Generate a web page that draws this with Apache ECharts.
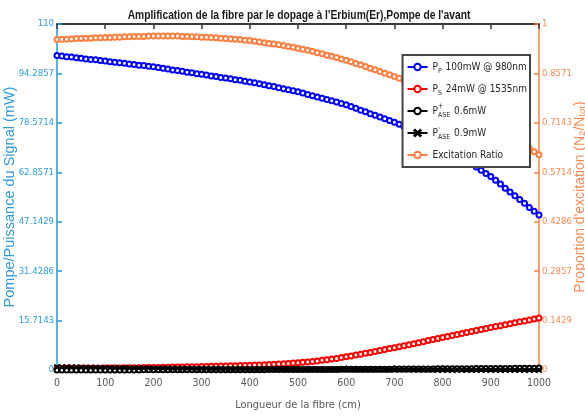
<!DOCTYPE html>
<html><head><meta charset="utf-8">
<script src="https://cdn.jsdelivr.net/npm/echarts@6/dist/echarts.min.js"></script>
<style>html,body{margin:0;padding:0;background:#fff}#c{width:585px;height:419px}</style>
</head><body><div id="c"></div>
<script>
var lengthCm = [0,10,20,30,40,50,60,70,80,90,100,110,120,130,140,150,160,170,180,190,200,210,220,230,240,250,260,270,280,290,300,310,320,330,340,350,360,370,380,390,400,410,420,430,440,450,460,470,480,490,500,510,520,530,540,550,560,570,580,590,600,610,620,630,640,650,660,670,680,690,700,710,720,730,740,750,760,770,780,790,800,810,820,830,840,850,860,870,880,890,900,910,920,930,940,950,960,970,980,990,1000];
var pumpP = [100.0,99.8,99.6,99.5,99.3,99.1,98.9,98.7,98.6,98.4,98.2,
  98.0,97.8,97.7,97.5,97.3,97.1,96.9,96.8,96.6,96.4,
  96.2,95.9,95.7,95.4,95.2,95.0,94.7,94.5,94.2,94.0,
  93.8,93.5,93.3,93.0,92.8,92.6,92.3,92.1,91.8,91.6,
  91.3,91.0,90.7,90.4,90.1,89.7,89.4,89.1,88.8,88.5,
  88.1,87.6,87.2,86.8,86.4,86.0,85.6,85.2,84.7,84.3,
  83.8,83.2,82.6,82.1,81.5,81.0,80.4,79.9,79.3,78.8,
  78.1,77.3,76.6,75.9,75.1,74.4,73.7,73.0,72.2,71.5,
  70.6,69.6,68.6,67.6,66.6,65.6,64.5,63.5,62.5,61.5,
  60.3,59.1,57.8,56.6,55.4,54.2,53.0,51.7,50.5,49.3];
var signalS = [0.50,0.51,0.52,0.53,0.54,0.55,0.56,0.57,0.58,0.59,0.60,
  0.62,0.64,0.66,0.68,0.70,0.72,0.74,0.76,0.78,0.80,
  0.83,0.86,0.89,0.92,0.95,0.98,1.01,1.04,1.07,1.10,
  1.14,1.18,1.22,1.26,1.30,1.34,1.38,1.42,1.46,1.50,
  1.56,1.62,1.69,1.76,1.84,1.92,2.01,2.10,2.20,2.30,
  2.43,2.57,2.72,2.89,3.07,3.26,3.47,3.69,3.94,4.20,
  4.47,4.75,5.03,5.31,5.60,5.90,6.19,6.49,6.80,7.10,
  7.42,7.74,8.06,8.38,8.70,9.02,9.34,9.66,9.98,10.30,
  10.62,10.94,11.26,11.58,11.90,12.22,12.54,12.86,13.18,13.50,
  13.80,14.10,14.40,14.70,15.00,15.30,15.60,15.90,16.20,16.50];
var aseForward = [0.00,0.00,0.01,0.01,0.01,0.01,0.01,0.02,0.02,0.02,0.02,
  0.02,0.02,0.03,0.03,0.03,0.03,0.03,0.04,0.04,0.04,
  0.04,0.04,0.05,0.05,0.05,0.05,0.06,0.06,0.06,0.06,
  0.07,0.07,0.07,0.08,0.08,0.08,0.09,0.09,0.09,0.10,
  0.10,0.11,0.11,0.12,0.12,0.13,0.13,0.14,0.14,0.15,
  0.15,0.16,0.16,0.17,0.18,0.18,0.19,0.19,0.20,0.21,
  0.21,0.22,0.23,0.23,0.24,0.25,0.26,0.26,0.27,0.28,
  0.29,0.30,0.30,0.31,0.32,0.33,0.34,0.35,0.36,0.37,
  0.38,0.39,0.40,0.41,0.42,0.43,0.44,0.45,0.46,0.47,
  0.48,0.49,0.50,0.51,0.53,0.54,0.55,0.56,0.58,0.60];
var aseBackward = [0.90,0.88,0.86,0.84,0.82,0.80,0.78,0.76,0.74,0.72,0.70,
  0.68,0.66,0.64,0.63,0.61,0.59,0.58,0.56,0.55,0.53,
  0.52,0.50,0.49,0.48,0.46,0.45,0.44,0.43,0.41,0.40,
  0.39,0.38,0.37,0.36,0.35,0.34,0.33,0.32,0.31,0.30,
  0.29,0.28,0.27,0.27,0.26,0.25,0.24,0.23,0.23,0.22,
  0.21,0.21,0.20,0.19,0.19,0.18,0.17,0.17,0.16,0.16,
  0.15,0.15,0.14,0.14,0.13,0.13,0.12,0.12,0.11,0.11,
  0.10,0.10,0.10,0.09,0.09,0.08,0.08,0.08,0.07,0.07,
  0.07,0.06,0.06,0.06,0.05,0.05,0.05,0.04,0.04,0.04,
  0.04,0.03,0.03,0.03,0.02,0.02,0.02,0.02,0.01,0.01];
var excitation = [0.955,0.956,0.956,0.957,0.958,0.958,0.959,0.959,0.960,0.960,0.961,
  0.961,0.962,0.962,0.963,0.963,0.964,0.964,0.964,0.965,0.965,
  0.965,0.965,0.965,0.965,0.965,0.964,0.964,0.963,0.963,0.962,
  0.962,0.961,0.960,0.959,0.958,0.957,0.956,0.955,0.953,0.952,
  0.950,0.948,0.946,0.944,0.942,0.940,0.938,0.935,0.933,0.930,
  0.927,0.924,0.921,0.917,0.914,0.910,0.907,0.903,0.899,0.895,
  0.891,0.886,0.882,0.877,0.872,0.868,0.863,0.858,0.853,0.848,
  0.843,0.837,0.831,0.825,0.819,0.813,0.807,0.801,0.795,0.788,
  0.781,0.774,0.766,0.759,0.751,0.743,0.736,0.728,0.720,0.712,
  0.704,0.695,0.686,0.677,0.668,0.659,0.650,0.641,0.631,0.622];
var xTicks = [0,100,200,300,400,500,600,700,800,900,1000];
var leftTicks = [0,15.7143,31.4286,47.1429,62.8571,78.5714,94.2857,110];
var rightTicks = [0,0.1429,0.2857,0.4286,0.5714,0.7143,0.8571,1];
var titleText = "Amplification de la fibre par le dopage à l'Erbium(Er),Pompe de l'avant";
var seriesNames = ['Pp','Ps','PaseF','PaseB','Excitation Ratio'];
var legendLabels = {
  'Pp': 'P{sub|P} 100mW @ 980nm',
  'Ps': 'P{sub|S} 24mW @ 1535nm',
  'PaseF': 'P{sup|+}{sub|ASE} 0.6mW',
  'PaseB': 'P{sup|-}{sub|ASE} 0.9mW',
  'Excitation Ratio': 'Excitation Ratio'
};

function pairs(ys){ return lengthCm.map(function(x,i){ return [x, ys[i]]; }); }
var FN = '"DejaVu Sans Condensed",sans-serif';
var FR = '"Liberation Sans",Arial,sans-serif';
var BLUEAX = '#1E9BE0', ORANGE = '#FF7F40', ORLBL = '#F98A55', BLLBL = '#2E9BDB';
var xPath = 'path://M1,0 L5,4 L9,0 L10,1 L6,5 L10,9 L9,10 L5,6 L1,10 L0,9 L4,5 L0,1 Z';
function fmt(v){ return String(parseFloat(Number(v).toFixed(4))); }

var chart = echarts.init(document.getElementById('c'), null, {renderer:'canvas'});
function lineSeries(name, ys, color, yIdx, symbol){
  return {
    name: name, type: 'line', data: pairs(ys), yAxisIndex: yIdx, xAxisIndex: 0,
    symbol: symbol || 'emptyCircle', symbolSize: 5, showAllSymbol: true,
    lineStyle: {color: color, width: 1.5}, itemStyle: {color: color, borderColor: color, borderWidth: 1.2},
    animation: false, z: 3
  };
}
chart.setOption({
  animation: false,
  graphic: [{
    type: 'text', x: 299, y: 15, scaleX: 0.79, z: 10,
    style: {text: titleText, font: 'bold 13px ' + FR, fill: '#1a1a1a', align: 'center', verticalAlign: 'middle'}
  }],
  grid: {left: 57, right: 46, top: 24, bottom: 49, containLabel: false, outerBoundsMode: 'none'},
  legend: {
    data: seriesNames, orient: 'vertical', right: 55, top: 55,
    itemWidth: 20, itemHeight: 8, itemGap: 6,
    backgroundColor: '#fff', borderColor: '#444', borderWidth: 2, padding: [4, 3, 4, 4],
    formatter: function(n){ return legendLabels[n]; },
    textStyle: {fontFamily: FN, fontSize: 10, color: '#262626', lineHeight: 16,
      rich: {
        sub: {fontFamily: FN, fontSize: 7, color: '#262626', verticalAlign: 'bottom', lineHeight: 9, padding:[0,1,0,0]},
        sup: {fontFamily: FN, fontSize: 7, color: '#262626', verticalAlign: 'top', lineHeight: 9, width: 0.01}
      }}
  },
  xAxis: [{
    type: 'value', position: 'bottom', min: 0, max: 1000, interval: 100,
    axisLine: {show: true, onZero: false, lineStyle: {color: '#262626', width: 1}},
    axisTick: {inside: true, length: 5, lineStyle: {color: '#262626'}, customValues: xTicks},
    axisLabel: {color: '#595959', fontFamily: FN, fontSize: 10.5, margin: 8, customValues: xTicks, formatter: fmt},
    splitLine: {show: false},
    name: 'Longueur de la fibre (cm)', nameLocation: 'middle', nameGap: 30, nameMoveOverlap: false,
    nameTextStyle: {color: '#595959', fontFamily: FN, fontSize: 11}
  }, {
    type: 'value', position: 'top', min: 0, max: 1000, interval: 100,
    axisLine: {show: true, onZero: false, lineStyle: {color: '#3a3a3a', width: 2}},
    axisTick: {inside: true, length: 5, lineStyle: {color: '#3a3a3a', width: 1.5}},
    axisLabel: {show: false}, splitLine: {show: false}
  }],
  yAxis: [{
    type: 'value', position: 'left', min: 0, max: 110,
    axisLine: {show: true, onZero: false, lineStyle: {color: BLUEAX, width: 1.5}},
    axisTick: {inside: true, length: 5, lineStyle: {color: BLUEAX, width: 1.5}, customValues: leftTicks},
    axisLabel: {color: BLLBL, fontFamily: FN, fontSize: 9.5, margin: 3, customValues: leftTicks, formatter: fmt},
    splitLine: {show: false},
    name: 'Pompe/Puissance du Signal (mW)', nameLocation: 'middle', nameGap: 40, nameMoveOverlap: false,
    nameTextStyle: {color: BLLBL, fontFamily: FR, fontSize: 14.5}
  }, {
    type: 'value', position: 'right', min: 0, max: 1,
    axisLine: {show: true, onZero: false, lineStyle: {color: ORANGE, width: 1.5}},
    axisTick: {inside: true, length: 5, lineStyle: {color: ORANGE, width: 1.5}, customValues: rightTicks},
    axisLabel: {color: ORLBL, fontFamily: FN, fontSize: 9.5, margin: 3, customValues: rightTicks, formatter: fmt},
    splitLine: {show: false},
    name: "Proportion d'excitation (N{sub|2}/N{sub|tot})", nameLocation: 'middle', nameGap: 34, nameMoveOverlap: false,
    nameTextStyle: {color: ORLBL, fontFamily: FR, fontSize: 14,
      rich: {sub: {color: ORLBL, fontFamily: FR, fontSize: 9.5, verticalAlign: 'bottom', lineHeight: 11}}}
  }],
  series: [
    lineSeries('Pp', pumpP, '#0000FF', 0),
    lineSeries('Ps', signalS, '#FF0000', 0),
    lineSeries('PaseF', aseForward, '#000000', 0),
    lineSeries('PaseB', aseBackward, '#000000', 0, xPath),
    lineSeries('Excitation Ratio', excitation, ORANGE, 1)
  ]
});
</script></body></html>
